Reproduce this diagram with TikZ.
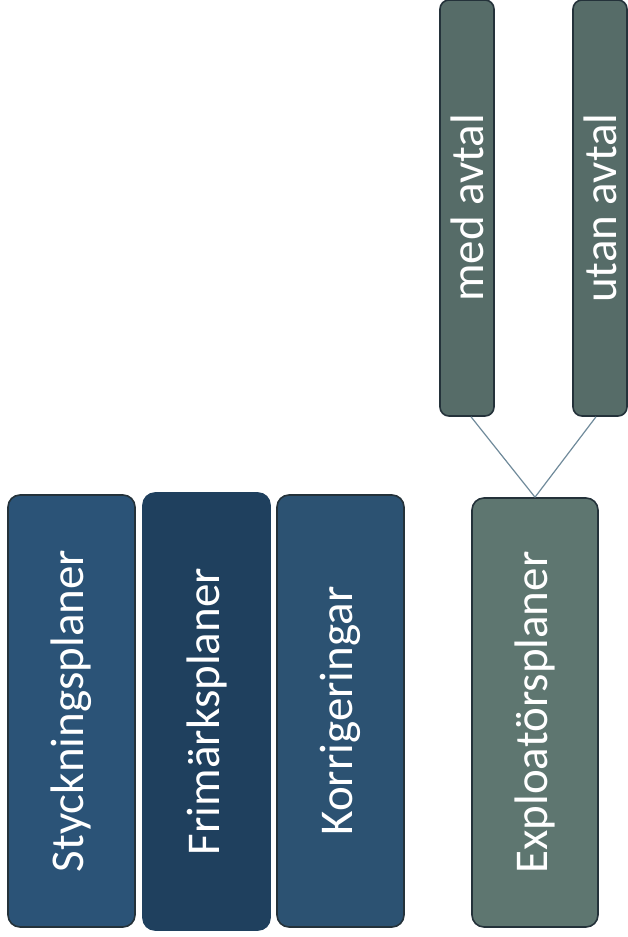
\documentclass[tikz,border=0pt]{standalone}
\usepackage{fontspec}
\setmainfont{Carlito}
\definecolor{cSty}{HTML}{2B5377}
\definecolor{cFri}{HTML}{1F405E}
\definecolor{cKor}{HTML}{2C5272}
\definecolor{cExp}{HTML}{5E7670}
\definecolor{cMed}{HTML}{566C68}
\definecolor{cBord}{HTML}{24323A}
\definecolor{cLine}{HTML}{6F8A9A}
\tikzset{
  plan/.style={draw=cBord, line width=1.6pt, rounded corners=12pt, rotate=90,
    text=white, inner sep=0pt, font=\fontsize{47}{50}\selectfont},
  sub/.style={draw=cBord, line width=1.6pt, rounded corners=9pt, rotate=90,
    text=white, inner sep=0pt, font=\fontsize{47}{50}\selectfont,
    minimum width=416pt, minimum height=54pt, fill=cMed},
  link/.style={draw=cLine, line width=1.2pt}
}
\begin{document}
\begin{tikzpicture}[x=1pt,y=-1pt]
\useasboundingbox (0,0) rectangle (627,937);
\node[plan, fill=cSty, minimum width=432pt, minimum height=127pt] (sty) at (71.5,711) {Styckningsplaner};
\node[plan, fill=cFri, draw=cFri, minimum width=437pt, minimum height=127pt] (fri) at (206.5,711.5) {Frimärksplaner};
\node[plan, fill=cKor, minimum width=432pt, minimum height=127pt] (kor) at (340.5,711) {Korrigeringar};
\node[plan, fill=cExp, minimum width=429pt, minimum height=126pt] (exp) at (535,712.5) {Exploatörsplaner};
\node[sub] (med) at (467,208) {med avtal};
\node[sub] (utan) at (600,208) {utan avtal};
\draw[link] ([xshift=4pt]med.west) -- (exp.east);
\draw[link] ([xshift=-4pt]utan.west) -- (exp.east);
\end{tikzpicture}
\end{document}
